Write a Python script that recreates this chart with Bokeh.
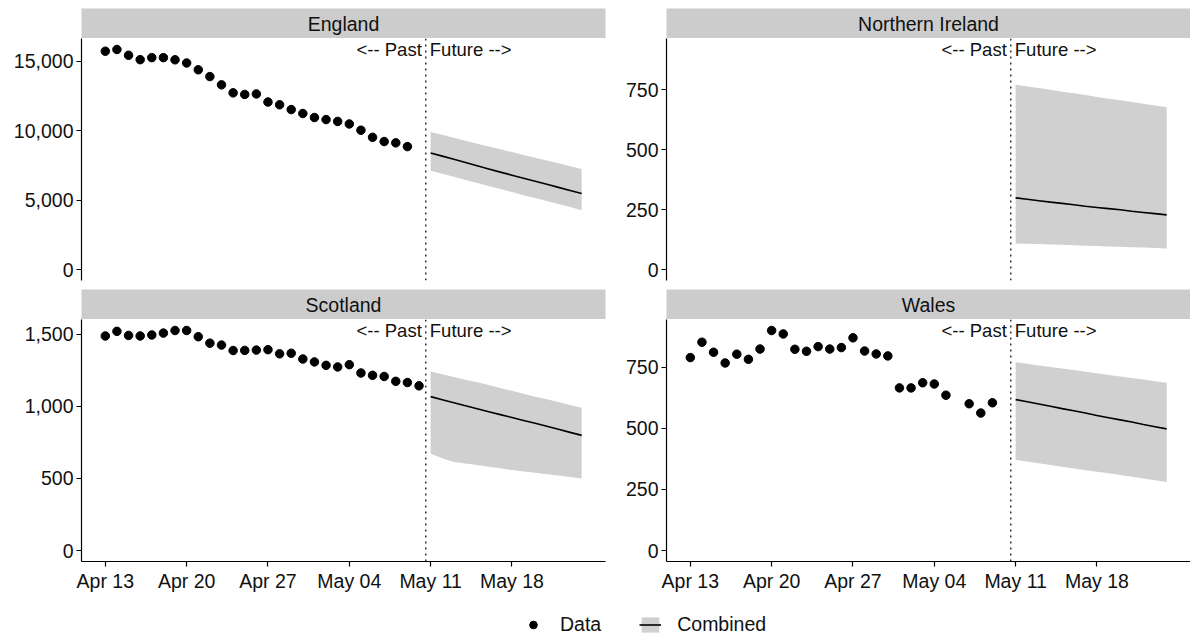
import pandas as pd
from bokeh.plotting import figure
from bokeh.layouts import column, row
from bokeh.models import (Range1d, FixedTicker, DatetimeTickFormatter, NumeralTickFormatter,
                          Span, Label, Legend, LegendItem, ColumnDataSource)
from bokeh.embed import file_html
from bokeh.resources import INLINE

NaN = float("nan")

# ---------------- data ----------------
regions = ["England", "Northern Ireland", "Scotland", "Wales"]
data_start = "2020-04-13"
forecast_start = "2020-05-11"
split_date = "2020-05-10 14:00"

england_data = [15710, 15835, 15420, 15105, 15250, 15250, 15095, 14865, 14375, 13885, 13290, 12715, 12600,
                12635, 12055, 11855, 11510, 11230, 10940, 10790, 10660, 10475, 10025, 9515, 9210, 9115, 8845]
ni_data = []
scotland_data = [1489, 1521, 1493, 1489, 1496, 1509, 1527, 1527, 1484, 1439, 1426, 1388, 1389, 1391,
                 1394, 1365, 1369, 1329, 1309, 1285, 1274, 1290, 1232, 1216, 1208, 1174, 1166, 1143]
wales_data = [790, 853, 812, 768, 804, 783, 825, 901, 887, 824, 816, 835, 825, 831,
              871, 817, 805, 797, 666, 666, 687, 682, 636, NaN, 601, 563, 605]

england_median = [8390, 8160, 7930, 7700, 7470, 7240, 7010, 6790, 6570, 6350, 6130, 5910, 5690, 5470]
england_upper = [9900, 9690, 9480, 9270, 9060, 8850, 8650, 8450, 8250, 8050, 7850, 7650, 7440, 7230]
england_lower = [7110, 6890, 6670, 6450, 6230, 6010, 5790, 5570, 5350, 5140, 4930, 4720, 4490, 4260]

ni_median = [299, 293, 287, 281, 276, 270, 264, 259, 254, 249, 243, 238, 233, 228]
ni_upper = [771, 764, 757, 750, 742, 735, 728, 720, 713, 706, 699, 692, 684, 677]
ni_lower = [109, 107, 106, 104, 103, 101, 99, 98, 96, 95, 93, 92, 90, 88]

scotland_median = [1068, 1047, 1026, 1005, 984, 963, 943, 923, 903, 883, 862, 841, 820, 799]
scotland_upper = [1243, 1224, 1205, 1186, 1167, 1148, 1128, 1108, 1088, 1068, 1049, 1030, 1010, 991]
scotland_lower = [671, 640, 615, 604, 593, 582, 571, 558, 548, 539, 529, 520, 510, 500]

wales_median = [618, 609, 600, 591, 581, 572, 563, 553, 544, 535, 526, 516, 507, 498]
wales_upper = [771, 765, 758, 752, 745, 739, 732, 726, 719, 713, 706, 700, 693, 687]
wales_lower = [371, 364, 357, 350, 343, 336, 329, 323, 316, 309, 302, 295, 288, 281]

# height of the "<-- Past | Future -->" annotation in each panel (sets the panel's y extent)
label_y = [15835, 918, 1527, 901]

england_ticks = [0, 5000, 10000, 15000]
ni_ticks = [0, 250, 500, 750]
scotland_ticks = [0, 500, 1000, 1500]
wales_ticks = [0, 250, 500, 750]

x_tick_dates = ["2020-04-13", "2020-04-20", "2020-04-27", "2020-05-04", "2020-05-11", "2020-05-18"]
x_tick_labels = ["Apr 13", "Apr 20", "Apr 27", "May 04", "May 11", "May 18"]

legend_labels = ["Data", "Combined"]

# ---------------- styling ----------------
FONT = "Liberation Sans"
STRIP = "#cccccc"
BAND = "#d0d0d0"
FW = 524
FH = 242
TICK_FS = "19.5px"


def ms(ts):
    return pd.Timestamp(ts).value / 1e6


f_dates = pd.date_range(forecast_start, periods=len(england_median), freq="D")
x_lo = pd.Timestamp(data_start)
x_hi = f_dates[-1]
span_days = (x_hi - x_lo) / pd.Timedelta(days=1)
pad_days = pd.Timedelta(days=0.05 * span_days)
x_start = ms(x_lo - pad_days)
x_end = ms(x_hi + pad_days)
split_ms = ms(split_date)
tick_ms = [ms(d) for d in x_tick_dates]
tick_override = {t: lab for t, lab in zip(tick_ms, x_tick_labels)}


def strip_fig(name, left, right, top_border):
    s = figure(frame_width=FW, frame_height=30, x_range=Range1d(0, 1), y_range=Range1d(0, 1),
               x_axis_location=None, y_axis_location=None, toolbar_location=None,
               output_backend="svg", min_border_left=left, min_border_right=right,
               min_border_top=top_border, min_border_bottom=0, background_fill_color=STRIP,
               border_fill_color="white", outline_line_color=None)
    s.grid.visible = False
    s.add_layout(Label(x=0.5, y=0.5, text=name, text_align="center", text_baseline="middle",
                       text_font=FONT, text_font_size="19.5px", text_color="#111111"))
    return s


def panel_fig(vals, med, lo, hi, ticks, top, left, right, bottom, bottom_row):
    pad = 0.05 * top
    p = figure(frame_width=FW, frame_height=FH, x_axis_type="datetime",
               x_axis_location="below" if bottom_row else None,
               x_range=Range1d(x_start, x_end), y_range=Range1d(-pad, top + pad),
               toolbar_location=None, output_backend="svg",
               min_border_left=left, min_border_right=right, min_border_top=0,
               min_border_bottom=bottom, outline_line_color=None,
               background_fill_color="white", border_fill_color="white")
    p.grid.visible = False

    src_f = ColumnDataSource(dict(x=f_dates, med=med, lo=lo, hi=hi))
    p.varea(x="x", y1="lo", y2="hi", source=src_f, fill_color=BAND, fill_alpha=1.0)
    p.line(x="x", y="med", source=src_f, line_color="black", line_width=1.6)
    if len(vals):
        d = pd.date_range(data_start, periods=len(vals), freq="D")
        src_d = ColumnDataSource(dict(x=d, y=vals))
        p.scatter(x="x", y="y", source=src_d, size=8.5, fill_color="black", line_color="black")

    p.add_layout(Span(location=split_ms, dimension="height", line_color="black",
                      line_dash="2 4", line_width=1.2))
    p.add_layout(Label(x=split_ms, y=top, x_offset=-4, text="<-- Past", text_align="right",
                       text_baseline="middle", text_font=FONT, text_font_size="18.5px",
                       text_color="#111111"))
    p.add_layout(Label(x=split_ms, y=top, x_offset=4, text="Future -->", text_align="left",
                       text_baseline="middle", text_font=FONT, text_font_size="18.5px",
                       text_color="#111111"))

    ya = p.yaxis[0]
    ya.ticker = FixedTicker(ticks=ticks)
    ya.formatter = NumeralTickFormatter(format="0,0")
    axes = [ya]
    if bottom_row:
        xa = p.xaxis[0]
        xa.ticker = FixedTicker(ticks=tick_ms)
        xa.formatter = DatetimeTickFormatter(days="%b %d", months="%b %d")
        xa.major_label_overrides = tick_override
        axes.append(xa)
    for ax in axes:
        ax.axis_line_color = "black"
        ax.axis_line_width = 1.2
        ax.major_tick_line_color = "black"
        ax.major_tick_line_width = 1.2
        ax.major_tick_out = 5
        ax.major_tick_in = 0
        ax.minor_tick_line_color = None
        ax.major_label_text_font = FONT
        ax.major_label_text_font_size = TICK_FS
        ax.major_label_text_color = "#111111"
        ax.major_label_standoff = 3
    return p


LL, LR = 81, 5     # left column borders
RL, RR = 56, 0     # right column borders
TOP = 8

sE = strip_fig(regions[0], LL, LR, TOP)
pE = panel_fig(england_data, england_median, england_lower, england_upper, england_ticks,
               label_y[0], LL, LR, 9, False)
sS = strip_fig(regions[2], LL, LR, 0)
pS = panel_fig(scotland_data, scotland_median, scotland_lower, scotland_upper, scotland_ticks,
               label_y[2], LL, LR, 35, True)

sN = strip_fig(regions[1], RL, RR, TOP)
pN = panel_fig(ni_data, ni_median, ni_lower, ni_upper, ni_ticks,
               label_y[1], RL, RR, 9, False)
sW = strip_fig(regions[3], RL, RR, 0)
pW = panel_fig(wales_data, wales_median, wales_lower, wales_upper, wales_ticks,
               label_y[3], RL, RR, 35, True)

total_w = (LL + FW + LR) + (RL + FW + RR)

lf = figure(frame_width=total_w, frame_height=42, x_range=Range1d(0, 1), y_range=Range1d(0, 1),
            x_axis_location=None, y_axis_location=None, toolbar_location=None,
            output_backend="svg", min_border_left=0, min_border_right=0, min_border_top=0,
            min_border_bottom=0, outline_line_color=None)
lf.grid.visible = False
# legend proxies (no visible marks: NaN positions)
r1 = lf.scatter(x=[NaN], y=[NaN], size=8, fill_color="black", line_color="black")
r2 = lf.varea(x=[NaN], y1=[NaN], y2=[NaN], fill_color=BAND)
r3 = lf.line(x=[NaN], y=[NaN], line_color="black", line_width=1.6)
legend = Legend(items=[LegendItem(label=legend_labels[0], renderers=[r1], index=0),
                       LegendItem(label=legend_labels[1], renderers=[r2, r3], index=0)],
                location=(522, 2), orientation="horizontal", glyph_width=22, glyph_height=19,
                label_height=19, label_standoff=16, spacing=38, padding=0, margin=0,
                border_line_color=None, background_fill_alpha=0,
                label_text_font=FONT, label_text_font_size="19.5px", label_text_color="#111111")
lf.add_layout(legend)

layout = column(row(column(sE, pE, sS, pS), column(sN, pN, sW, pW)), lf)

open("out.html", "w").write(file_html(layout, INLINE))
